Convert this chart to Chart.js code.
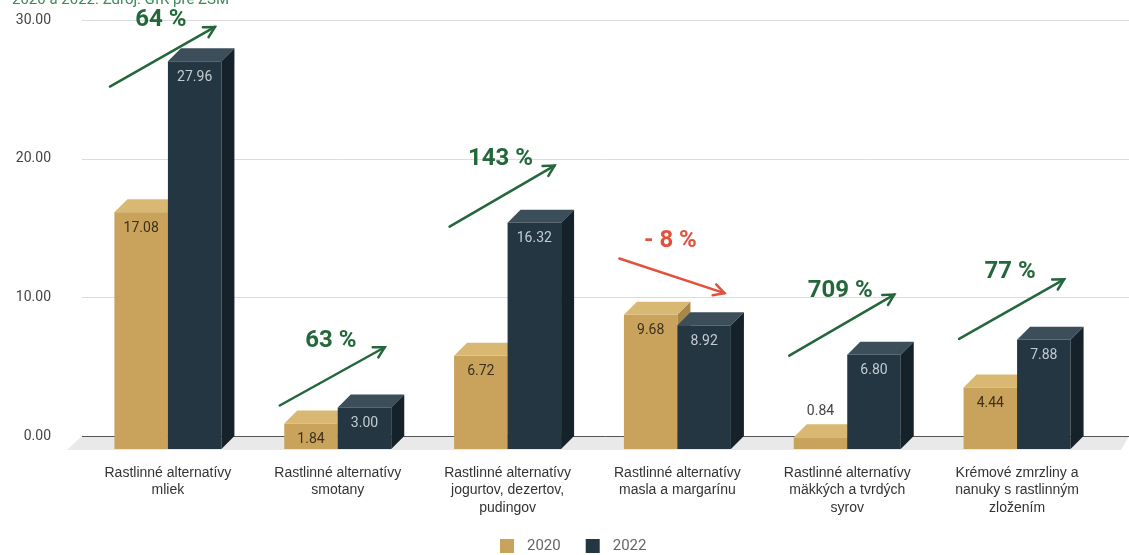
<!DOCTYPE html>
<html>
<head>
<meta charset="utf-8">
<script src="https://cdn.jsdelivr.net/npm/chart.js@4/dist/chart.umd.min.js"></script>
<style>
  html, body { margin: 0; padding: 0; background: #fff; }
  #wrap { position: relative; width: 1129px; height: 555px; overflow: hidden; }
  #title { position: absolute; left: 12px; top: -10px; font: 15px Roboto, sans-serif; color: #3b8a5a; white-space: nowrap; }
</style>
</head>
<body>
<div id="wrap">
  <canvas id="chart" width="1129" height="555"></canvas>
  <div id="title">2020 a 2022. Zdroj: GfK pre ZSM</div>
</div>
<script>
// categories (x axis, multi-line)
const categories = [
    ['Rastlinné alternatívy', 'mliek'],
    ['Rastlinné alternatívy', 'smotany'],
    ['Rastlinné alternatívy', 'jogurtov, dezertov,', 'pudingov'],
    ['Rastlinné alternatívy', 'masla a margarínu'],
    ['Rastlinné alternatívy', 'mäkkých a tvrdých', 'syrov'],
    ['Krémové zmrzliny a', 'nanuky s rastlinným', 'zložením']
];
const seriesNames = ['2020', '2022'];
const values2020 = [17.08, 1.84, 6.72, 9.68, 0.84, 4.44];
const values2022 = [27.96, 3.00, 16.32, 8.92, 6.80, 7.88];
const yTicks = [0, 10, 20, 30];

// change annotations: text, arrow start/end and text height in data units
const changeLabels = ['64 %', '63 %', '143 %', '- 8 %', '709 %', '77 %'];
const arrowFrom = [25.2, 2.2, 15.1, 12.8, 5.8, 7.0];
const arrowTo = [29.5, 6.4, 19.5, 10.3, 10.2, 11.3];
const changeLabelAt = [30.0, 6.85, 20.0, 14.05, 10.45, 11.8];

const DEPTH = 13;
const faceColors = [
    { front: '#c9a25c', top: '#d8b872', side: '#a8874a', label: '#3b311c' },
    { front: '#243641', top: '#3c4e59', side: '#16222a', label: '#c3ccd2' }
];

// grid, floor, 3D bars, the change arrows and the legend
const bars3d = {
    id: 'bars3d',
    beforeDatasetsDraw(chart) {
        const ctx = chart.ctx;
        const y = chart.scales.y;
        const W = chart.width;
        const zero = y.getPixelForValue(0);
        ctx.save();
        // floor
        ctx.fillStyle = '#e9e9e9';
        ctx.beginPath();
        ctx.moveTo(82, zero);
        ctx.lineTo(W, zero);
        ctx.lineTo(W - 8, zero + DEPTH + 1);
        ctx.lineTo(82 - DEPTH - 2, zero + DEPTH + 1);
        ctx.closePath();
        ctx.fill();
        // gridlines
        yTicks.forEach(t => {
            const py = Math.round(y.getPixelForValue(t)) + 0.5;
            ctx.strokeStyle = t === 0 ? '#555' : '#dcdcdc';
            ctx.lineWidth = 1;
            ctx.beginPath();
            ctx.moveTo(82, py);
            ctx.lineTo(W, py);
            ctx.stroke();
        });

        // bars
        chart.data.datasets.forEach((ds, di) => {
            const c = faceColors[di];
            chart.getDatasetMeta(di).data.forEach((el, i) => {
                const p = el.getProps(['x', 'y', 'base', 'width'], true);
                const l = p.x - p.width / 2, r = p.x + p.width / 2;
                const top = p.y + DEPTH, bot = p.base + DEPTH;
                ctx.fillStyle = c.front;
                ctx.fillRect(l, top, r - l, bot - top);
                ctx.fillStyle = c.top;
                ctx.beginPath();
                ctx.moveTo(l, top); ctx.lineTo(l + DEPTH, top - DEPTH);
                ctx.lineTo(r + DEPTH, top - DEPTH); ctx.lineTo(r, top);
                ctx.closePath(); ctx.fill();
                ctx.fillStyle = c.side;
                ctx.beginPath();
                ctx.moveTo(r, top); ctx.lineTo(r + DEPTH, top - DEPTH);
                ctx.lineTo(r + DEPTH, p.base); ctx.lineTo(r, bot);
                ctx.closePath(); ctx.fill();
                // value label
                ctx.font = '14px Roboto, sans-serif';
                ctx.textAlign = 'center';
                ctx.textBaseline = 'middle';
                const txt = ds.data[i].toFixed(2);
                if (bot - top < 18) {
                    ctx.fillStyle = '#444';
                    ctx.fillText(txt, p.x, top - DEPTH - 13);
                } else {
                    ctx.fillStyle = c.label;
                    ctx.fillText(txt, p.x, top + 16);
                }
            });
        });
        ctx.restore();
        return false;   // default bar drawing is skipped
    },
    afterDraw(chart) {
        const ctx = chart.ctx;
        const x = chart.scales.x, y = chart.scales.y;
        ctx.save();
        changeLabels.forEach((lbl, i) => {
            const xc = x.getPixelForValue(i);
            const color = arrowTo[i] < arrowFrom[i] ? '#e2513c' : '#24673a';
            const x0 = xc - 58, y0 = y.getPixelForValue(arrowFrom[i]);
            const x1 = xc + 47, y1 = y.getPixelForValue(arrowTo[i]);
            ctx.strokeStyle = color;
            ctx.lineWidth = 2.5;
            ctx.lineCap = 'round';
            ctx.beginPath();
            ctx.moveTo(x0, y0); ctx.lineTo(x1, y1);
            ctx.stroke();
            const a = Math.atan2(y1 - y0, x1 - x0);
            ctx.beginPath();
            ctx.moveTo(x1 - 12 * Math.cos(a - 0.5), y1 - 12 * Math.sin(a - 0.5));
            ctx.lineTo(x1, y1);
            ctx.lineTo(x1 - 12 * Math.cos(a + 0.5), y1 - 12 * Math.sin(a + 0.5));
            ctx.stroke();
            ctx.fillStyle = color;
            ctx.font = 'bold 24px Roboto, sans-serif';
            ctx.textAlign = 'center';
            ctx.textBaseline = 'middle';
            ctx.fillText(lbl, xc - 7, y.getPixelForValue(changeLabelAt[i]));
        });

        // legend
        ctx.font = '15px Roboto, sans-serif';
        ctx.textAlign = 'left';
        ctx.textBaseline = 'middle';
        let lx = 500;
        const ly = 546;
        chart.data.datasets.forEach(ds => {
            ctx.fillStyle = ds.backgroundColor;
            ctx.fillRect(lx, ly - 7, 14, 14);
            ctx.fillStyle = '#666';
            ctx.fillText(ds.label, lx + 27, ly);
            lx += 27 + ctx.measureText(ds.label).width + 25;
        });
        ctx.restore();
    }
};

new Chart(document.getElementById('chart'), {
    type: 'bar',
    data: {
        labels: categories,
        datasets: [
            { label: seriesNames[0], data: values2020, backgroundColor: faceColors[0].front },
            { label: seriesNames[1], data: values2022, backgroundColor: faceColors[1].front }
        ]
    },
    options: {
        responsive: false,
        animation: false,
        layout: { padding: { top: 20, right: 27, bottom: 0, left: 0 } },
        datasets: { bar: { barPercentage: 1, categoryPercentage: 0.63 } },
        scales: {
            x: {
                grid: { display: false },
                border: { display: false },
                ticks: {
                    padding: 20,
                    maxRotation: 0,
                    autoSkip: false,
                    color: '#333',
                    font: { family: '"Liberation Sans", Arial, sans-serif', size: 14, lineHeight: 1.25 }
                },
                afterFit: s => { s.height = 119; }
            },
            y: {
                min: 0, max: 30,
                grid: { display: false },
                border: { display: false },
                afterFit: s => { s.width = 83; s.paddingTop = 0; s.paddingBottom = 0; },
                ticks: {
                    stepSize: 10,
                    padding: 24,
                    color: '#444',
                    font: { family: 'Roboto, sans-serif', size: 14 },
                    callback: v => v.toFixed(2)
                }
            }
        },
        plugins: {
            legend: { display: false },
            tooltip: { enabled: false }
        }
    },
    plugins: [bars3d]
});
</script>
</body>
</html>
